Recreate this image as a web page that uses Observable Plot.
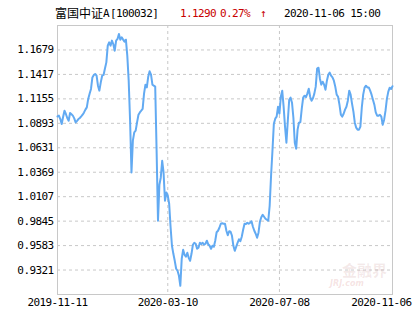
<!DOCTYPE html>
<html>
<head>
<meta charset="utf-8">
<script src="https://cdn.jsdelivr.net/npm/d3@7"></script>
<script src="https://cdn.jsdelivr.net/npm/@observablehq/plot@0.6"></script>
<style>
  html, body { margin: 0; padding: 0; background: #fff; }
  #head { position: relative; width: 415px; height: 20px; font-family: "DejaVu Sans Mono", monospace; font-size: 11px; letter-spacing: -0.6px; color: #000; }
  #head span { position: absolute; top: 8px; line-height: 12px; white-space: pre; }
  #head .cn { font-family: "Noto Sans CJK SC", sans-serif; font-size: 12px; letter-spacing: 0; top: 7px; }
  #head .red { color: #c80000; }
  #chart { position: relative; width: 415px; height: 310px; }
  #wm1 { position: absolute; left: 342px; top: 239px; font-family: "Noto Sans CJK SC", sans-serif; font-weight: bold; font-size: 15px; color: rgba(190,120,120,0.16); }
  #wm2 { position: absolute; left: 330px; top: 259px; font-family: "DejaVu Sans", sans-serif; font-style: italic; font-weight: bold; font-size: 8px; color: rgba(200,90,90,0.18); }
</style>
</head>
<body>
<div id="head"></div>
<div id="chart"></div>
<script>
// ---- data ----
const fundName = "富国中证";
const fundSuffix = "A";
const fundCode = "[100032]";
const lastNav = "1.1290";
const lastChange = "0.27%";
const arrow = "↑";
const stamp = "2020-11-06 15:00";

// daily NAV, one value per trading day (index 0 = 2019-11-11, 240 = 2020-11-06)
const nav = [
  1.0967,1.0975,1.0939,1.0886,1.0960,1.1028,1.0993,1.0950,1.0921,1.1004,
  1.0990,1.0975,1.0946,1.0903,1.0920,1.0939,1.0950,1.0967,1.0985,1.1010,
  1.1040,1.1064,1.1154,1.1210,1.1261,1.1385,1.1410,1.1422,1.1403,1.1296,
  1.1243,1.1332,1.1403,1.1411,1.1480,1.1546,1.1725,1.1760,1.1725,1.1779,
  1.1740,1.1671,1.1779,1.1797,1.1851,1.1789,1.1814,1.1790,1.1768,1.1789,
  1.1618,1.1350,1.0921,1.0367,1.0707,1.0796,1.0814,1.0903,1.0985,1.1010,
  1.1028,1.1047,1.1211,1.1307,1.1278,1.1393,1.1450,1.1414,1.1307,1.1296,
  1.1286,1.0599,0.9849,1.0235,1.0313,1.0492,1.0364,1.0063,1.0152,1.0117,
  1.0031,0.9785,0.9581,0.9495,0.9420,0.9335,0.9313,0.9259,0.9152,0.9442,
  0.9538,0.9485,0.9463,0.9506,0.9452,0.9420,0.9495,0.9592,0.9613,0.9603,
  0.9549,0.9560,0.9613,0.9599,0.9613,0.9592,0.9603,0.9635,0.9597,0.9581,
  0.9549,0.9581,0.9570,0.9635,0.9726,0.9742,0.9774,0.9817,0.9822,0.9817,
  0.9817,0.9742,0.9694,0.9737,0.9731,0.9688,0.9581,0.9527,0.9570,0.9613,
  0.9651,0.9629,0.9678,0.9753,0.9817,0.9814,0.9828,0.9817,0.9828,0.9844,
  0.9785,0.9742,0.9710,0.9667,0.9721,0.9838,0.9887,0.9913,0.9892,0.9871,
  0.9860,0.9849,1.0010,1.0331,1.0599,1.0889,1.0943,1.0964,1.1071,1.0996,
  1.1178,1.1243,1.1071,1.0857,1.0685,1.0921,1.1146,1.1168,1.1114,1.0953,
  1.0685,1.0621,1.0825,1.0900,1.0905,1.1050,1.1168,1.1189,1.1173,1.1211,
  1.1264,1.1178,1.1135,1.1162,1.1211,1.1286,1.1479,1.1489,1.1371,1.1307,
  1.1339,1.1307,1.1253,1.1350,1.1414,1.1436,1.1403,1.1385,1.1350,1.1286,
  1.1200,1.1178,1.1093,1.0985,1.0964,1.0996,1.1039,1.1071,1.1135,1.1243,
  1.1200,1.1103,1.1018,1.0900,1.0846,1.0825,1.0825,1.0857,1.1060,1.1200,
  1.1275,1.1296,1.1278,1.1278,1.1243,1.1200,1.1146,1.1093,1.1010,1.0975,
  1.0975,1.0985,1.0964,1.0878,1.0932,1.1028,1.1157,1.1232,1.1275,1.1260,
  1.1290
];
const tickIdx = [0, 79, 159, 240];
const tickLabels = ["2019-11-11", "2020-03-10", "2020-07-08", "2020-11-06"];
const yTicks = [0.9321, 0.9583, 0.9845, 1.0107, 1.0369, 1.0631, 1.0893, 1.1155, 1.1417, 1.1679];
const yDomain = [0.9059, 1.1941];

// ---- header ----
const head = document.getElementById("head");
function addSpan(text, left, cls) {
  const s = document.createElement("span");
  s.textContent = text;
  s.style.left = left + "px";
  if (cls) s.className = cls;
  head.appendChild(s);
}
addSpan(fundName, 55, "cn");
addSpan(fundSuffix, 103);
addSpan(fundCode, 110);
addSpan(lastNav, 180, "red");
addSpan(lastChange, 220, "red");
addSpan(arrow, 260, "red");
addSpan(stamp, 284);

// ---- chart ----
const data = nav.map((v, i) => ({i, v}));
const labelOf = i => tickLabels[tickIdx.indexOf(i)];
const gridStyle = {stroke: "#c8c8c8", strokeOpacity: 1, strokeDasharray: "3,3"};

const plot = Plot.plot({
  width: 415,
  height: 310,
  marginLeft: 57,
  marginRight: 23,
  marginTop: 5,
  marginBottom: 36,
  style: {fontFamily: "'DejaVu Sans Mono', monospace", fontSize: "11px", letterSpacing: "-0.6px", color: "#000", background: "transparent"},
  x: {domain: [0, 240], axis: null, label: null},
  y: {domain: yDomain, axis: null, label: null},
  marks: [
    Plot.gridY(yTicks, gridStyle),
    Plot.gridX(tickIdx.slice(1, 3), gridStyle),
    Plot.frame({stroke: "#c8c8c8"}),
    Plot.axisY(yTicks, {tickSize: 0, tickPadding: 4, tickFormat: ".4f", label: null, fill: "#000"}),
    Plot.axisX(tickIdx.slice(0, 3), {tickSize: 0, tickPadding: 4, tickFormat: labelOf, label: null, fill: "#000"}),
    Plot.axisX(tickIdx.slice(3), {tickSize: 0, tickPadding: 4, tickFormat: labelOf, label: null, fill: "#000", textAnchor: "end", dx: 19}),
    Plot.line(data, {x: "i", y: "v", stroke: "#62aaf2", strokeWidth: 2})
  ]
});
const chart = document.getElementById("chart");
chart.appendChild(plot);
const wm1 = document.createElement("div"); wm1.id = "wm1"; wm1.textContent = "金融界"; chart.appendChild(wm1);
const wm2 = document.createElement("div"); wm2.id = "wm2"; wm2.textContent = "JRJ.com"; chart.appendChild(wm2);
</script>
</body>
</html>
